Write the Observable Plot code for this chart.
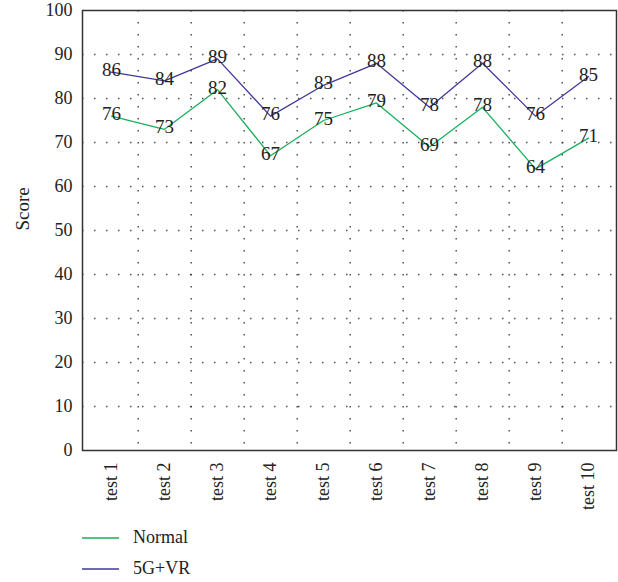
<!DOCTYPE html>
<html>
<head>
<meta charset="utf-8">
<script src="https://cdn.jsdelivr.net/npm/d3@7"></script>
<script src="https://cdn.jsdelivr.net/npm/@observablehq/plot@0.6"></script>
<style>
  html, body { margin: 0; padding: 0; background: #fff; }
  body { width: 618px; height: 582px; overflow: hidden; font-family: "Liberation Serif", "DejaVu Serif", serif; color: #222; }
  #legend { position: relative; height: 62px; }
  .row { position: absolute; left: 82px; display: flex; align-items: center; font-size: 18px; }
  .row svg { margin-right: 14px; }
</style>
</head>
<body>
<div id="chart"></div>
<div id="legend"></div>
<script>
const categories = ["test 1","test 2","test 3","test 4","test 5","test 6","test 7","test 8","test 9","test 10"];
const normalValues = [76, 73, 82, 67, 75, 79, 69, 78, 64, 71];
const vrValues = [86, 84, 89, 76, 83, 88, 78, 88, 76, 85];
const seriesNames = ["Normal", "5G+VR"];
const seriesColors = ["#1aaf5d", "#41399b"];
const yTicks = [0,10,20,30,40,50,60,70,80,90,100];

const data = [];
categories.forEach((c, i) => {
  data.push({cat: c, value: normalValues[i], series: seriesNames[0]});
  data.push({cat: c, value: vrValues[i], series: seriesNames[1]});
});

const W = 618, H = 520, ml = 82, mr = 2, mt = 10, mb = 70;
const step = (W - ml - mr) / categories.length;

const chart = Plot.plot({
  width: W, height: H,
  marginLeft: ml, marginRight: mr, marginTop: mt, marginBottom: mb,
  style: {fontFamily: "'Liberation Serif', serif", fontSize: "18px", color: "#222", background: "#fff"},
  x: {type: "point", domain: categories, padding: 0.5, label: null},
  y: {domain: [0, 100], label: null},
  color: {domain: seriesNames, range: seriesColors},
  marks: [
    Plot.ruleY(yTicks.slice(1, -1), {stroke: "#333", strokeWidth: 1.5, strokeDasharray: "1.5 10.5", strokeOpacity: 0.85}),
    Plot.ruleX(categories.slice(0, -1), {dx: step / 2, stroke: "#333", strokeWidth: 1.5, strokeDasharray: "1.5 10.5", strokeOpacity: 0.85}),
    Plot.line(data, {x: "cat", y: "value", z: "series", stroke: "series", strokeWidth: 1.3}),
    Plot.text(data, {x: "cat", y: "value", text: d => String(d.value), fill: "#222", fontSize: 19, dy: -2}),
    Plot.axisY({ticks: yTicks, tickSize: 0, tickPadding: 10, fontSize: 18, label: null}),
    Plot.axisX({tickSize: 0, tickPadding: 12, tickRotate: -90, fontSize: 18, label: null}),
    Plot.text(["Score"], {frameAnchor: "left", dx: -60, rotate: -90, fontSize: 19, fill: "#222"}),
    Plot.frame({stroke: "#333", strokeWidth: 1.5})
  ]
});
document.getElementById("chart").appendChild(chart);

const legend = document.getElementById("legend");
seriesNames.forEach((name, i) => {
  const row = document.createElement("div");
  row.className = "row";
  row.style.top = (i * 31 + 7) + "px";
  row.innerHTML = `<svg width="37" height="4"><line x1="0" x2="37" y1="2" y2="2" stroke="${seriesColors[i]}" stroke-width="1.5"/></svg><span>${name}</span>`;
  legend.appendChild(row);
});
</script>
</body>
</html>
